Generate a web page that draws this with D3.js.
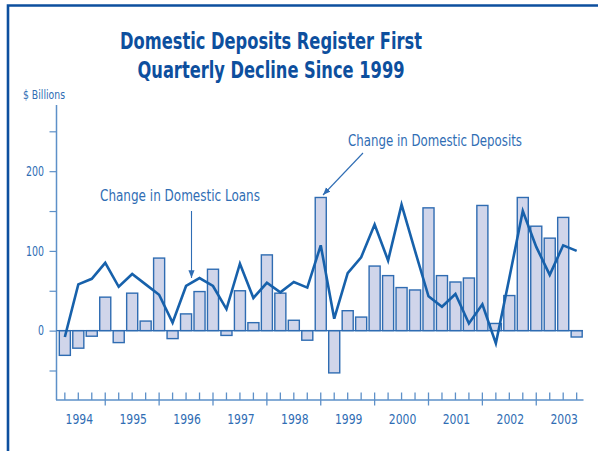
<!DOCTYPE html>
<html>
<head>
<meta charset="utf-8">
<script src="https://cdn.jsdelivr.net/npm/d3@7"></script>
<style>
  body { margin: 0; background: #fff; }
  svg { display: block; }
  text { font-family: "Liberation Sans Narrow", "DejaVu Sans Condensed", "Roboto", sans-serif; }
</style>
</head>
<body>
<div id="chart"></div>
<script>
// quarterly data, 1994 Q1 .. 2003 Q3
const quarters = [
  '1994Q1','1994Q2','1994Q3','1994Q4',
  '1995Q1','1995Q2','1995Q3','1995Q4',
  '1996Q1','1996Q2','1996Q3','1996Q4',
  '1997Q1','1997Q2','1997Q3','1997Q4',
  '1998Q1','1998Q2','1998Q3','1998Q4',
  '1999Q1','1999Q2','1999Q3','1999Q4',
  '2000Q1','2000Q2','2000Q3','2000Q4',
  '2001Q1','2001Q2','2001Q3','2001Q4',
  '2002Q1','2002Q2','2002Q3','2002Q4',
  '2003Q1','2003Q2','2003Q3'
];

// change in domestic deposits ($ billions) - bars
const deposits = [
  -31, -22, -7, 42,
  -15, 47, 12, 91,
  -10, 21, 49, 77,
  -6, 50, 10, 95,
  47, 13, -12, 167,
  -53, 25, 17, 81,
  69, 54, 51, 154,
  69, 61, 66, 157,
  9, 44, 167, 131,
  116, 142, -8
];

// change in domestic loans ($ billions) - line
const loans = [
  -8, 58, 65, 85,
  55, 71, 58, 45,
  10, 56, 66, 56,
  27, 84, 41, 60,
  48, 61, 54, 107,
  15, 72, 92, 133,
  88, 158, 100, 43,
  30, 46, 9, 33,
  -16, 66, 150, 105,
  70, 107, 100
];

const years = ['1994','1995','1996','1997','1998','1999','2000','2001','2002','2003'];
const yTicks = [-50, 0, 50, 100, 150, 200, 250];
const yLabels = [0, 100, 200];

const width = 598, height = 451;
const frameBlue = '#0d4f9e';
const textBlue = '#2f6db4';
const axisBlue = '#5d90c8';

const svg = d3.select('#chart').append('svg')
  .attr('width', width)
  .attr('height', height);

// frame (top and left edges)
svg.append('path')
  .attr('d', 'M8,451 V5.5 H598')
  .attr('fill', 'none')
  .attr('stroke', frameBlue)
  .attr('stroke-width', 2.6);

// title
const title = svg.append('text')
  .attr('text-anchor', 'middle')
  .attr('fill', frameBlue)
  .attr('font-weight', 'bold')
  .attr('font-size', 23.5);
title.append('tspan').attr('x', 271).attr('y', 48.5)
  .attr('textLength', 302).attr('lengthAdjust', 'spacingAndGlyphs')
  .text('Domestic Deposits Register First');
title.append('tspan').attr('x', 271).attr('y', 77.5)
  .attr('textLength', 267).attr('lengthAdjust', 'spacingAndGlyphs')
  .text('Quarterly Decline Since 1999');

svg.append('text')
  .attr('x', 23).attr('y', 99)
  .attr('fill', textBlue)
  .attr('font-size', 13)
  .attr('textLength', 42).attr('lengthAdjust', 'spacingAndGlyphs')
  .text('$ Billions');

const x = d3.scaleBand()
  .domain(quarters)
  .range([58.1, 583.4])
  .paddingInner(0.18)
  .paddingOuter(0.09);

const y = d3.scaleLinear()
  .domain([-87, 283])
  .range([400, 105]);

const cx = q => x(q) + x.bandwidth() / 2;

// y axis
const yAxis = svg.append('g')
  .attr('transform', 'translate(56.5,0)')
  .call(d3.axisLeft(y).tickValues(yTicks).tickSize(7)
    .tickFormat(d => yLabels.includes(d) ? d : ''));
yAxis.select('.domain').remove();
yAxis.selectAll('line').attr('stroke', axisBlue).attr('stroke-width', 1.2);
yAxis.selectAll('text')
  .attr('x', -12.5)
  .attr('fill', textBlue)
  .attr('font-size', 13.5)
  .attr('font-family', null)
  .attr('textLength', d => yLabels.includes(d) ? String(d).length * 6 : null)
  .attr('lengthAdjust', 'spacingAndGlyphs');

svg.append('line')
  .attr('x1', 56.5).attr('x2', 56.5)
  .attr('y1', y.range()[1]).attr('y2', 400)
  .attr('stroke', axisBlue).attr('stroke-width', 1.5);

// bars
svg.append('g')
  .selectAll('rect')
  .data(deposits)
  .join('rect')
  .attr('x', (d, i) => x(quarters[i]))
  .attr('y', d => y(Math.max(0, d)))
  .attr('width', x.bandwidth())
  .attr('height', d => Math.abs(y(d) - y(0)))
  .attr('fill', '#d0d5ea')
  .attr('stroke', '#2f6cb2')
  .attr('stroke-width', 1.4);

// zero line
svg.append('line')
  .attr('x1', 56.5).attr('x2', 583)
  .attr('y1', y(0)).attr('y2', y(0))
  .attr('stroke', '#2f6cb2').attr('stroke-width', 1.4);

// x axis
svg.append('line')
  .attr('x1', 56).attr('x2', 583.5)
  .attr('y1', 400).attr('y2', 400)
  .attr('stroke', axisBlue).attr('stroke-width', 1.5);

svg.append('g')
  .selectAll('line')
  .data(quarters)
  .join('line')
  .attr('x1', q => cx(q)).attr('x2', q => cx(q))
  .attr('y1', 392.5)
  .attr('y2', (q, i) => i % 4 === 3 ? 405.5 : 400)
  .attr('stroke', axisBlue)
  .attr('stroke-width', 1.3);

svg.append('g')
  .selectAll('text')
  .data(years)
  .join('text')
  .attr('x', (yr, i) => cx(quarters[i * 4 + 1]) + 1)
  .attr('y', 423.5)
  .attr('text-anchor', 'middle')
  .attr('fill', textBlue)
  .attr('font-size', 14.5)
  .attr('textLength', 27.5).attr('lengthAdjust', 'spacingAndGlyphs')
  .text(d => d);

// loans line
svg.append('path')
  .datum(loans)
  .attr('fill', 'none')
  .attr('stroke', '#1761ab')
  .attr('stroke-width', 2.6)
  .attr('stroke-linejoin', 'miter')
  .attr('d', d3.line().x((d, i) => cx(quarters[i])).y(d => y(d)));

// annotations
const defs = svg.append('defs');
defs.append('marker')
  .attr('id', 'arrow')
  .attr('viewBox', '0 0 10 10')
  .attr('refX', 10).attr('refY', 5)
  .attr('markerWidth', 7).attr('markerHeight', 7)
  .attr('orient', 'auto')
  .append('path')
  .attr('d', 'M0,1 L10,5 L0,9 Z')
  .attr('fill', textBlue);

svg.append('text')
  .attr('x', 100).attr('y', 201)
  .attr('fill', textBlue)
  .attr('font-size', 16)
  .attr('textLength', 160).attr('lengthAdjust', 'spacingAndGlyphs')
  .text('Change in Domestic Loans');

svg.append('line')
  .attr('x1', 191.5).attr('y1', 211)
  .attr('x2', 191.5).attr('y2', 278)
  .attr('stroke', textBlue).attr('stroke-width', 1.1)
  .attr('marker-end', 'url(#arrow)');

svg.append('text')
  .attr('x', 348).attr('y', 146)
  .attr('fill', textBlue)
  .attr('font-size', 16)
  .attr('textLength', 174).attr('lengthAdjust', 'spacingAndGlyphs')
  .text('Change in Domestic Deposits');

svg.append('line')
  .attr('x1', 363).attr('y1', 153)
  .attr('x2', 323).attr('y2', 195)
  .attr('stroke', textBlue).attr('stroke-width', 1.1)
  .attr('marker-end', 'url(#arrow)');
</script>
</body>
</html>
